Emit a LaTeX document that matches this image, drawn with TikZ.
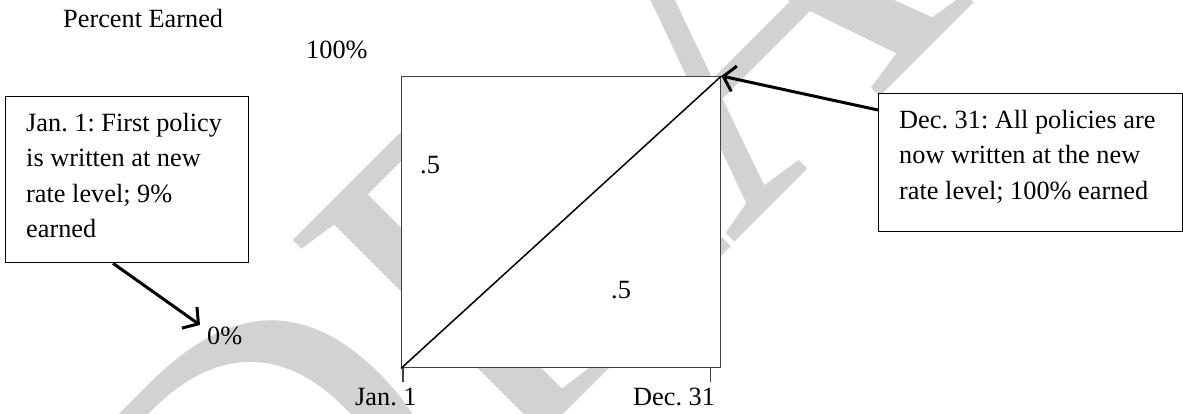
\documentclass[tikz,border=0pt]{standalone}
\usepackage{fontspec}
\setmainfont{Liberation Serif}
\usetikzlibrary{arrows.meta,calc}
\frenchspacing
\begin{document}
\begin{tikzpicture}[x=1pt,y=-1pt,
  lbl/.style={inner sep=0pt, anchor=base west, font=\fontsize{26.3}{35.3}\selectfont},
  boxtext/.style={inner sep=0pt, anchor=north west, align=left, font=\fontsize{26.3}{35.3}\selectfont},
  callout/.style={draw=black, fill=white, line width=1.3pt, inner sep=0pt, anchor=north west},
  pointer/.style={line width=3pt, -{Straight Barb[length=11pt,width=26pt]}},
  frame/.style={draw=black!75, line width=1.4pt},
  wmark/.style={text=gray!35, inner sep=0pt, rotate=45, font=\fontsize{480}{480}\selectfont}]
\useasboundingbox (0,0) rectangle (1183,413);
\begin{scope}
\clip (0,0) rectangle (1183,413);
\node[wmark] (wm) at (705,49) {DRAFT};
\end{scope}
% square
\node[frame, fill=white, minimum width=319pt, minimum height=291pt, inner sep=0pt, anchor=north west] (sq) at (401,76) {};
\draw[line width=1.5pt] (sq.south west) -- (sq.north east);
\draw[frame] ([xshift=2pt]sq.south west) -- ++(0,14);
\draw[frame] ([xshift=-11pt]sq.south east) -- ++(0,14);
% labels
\node[lbl] (pe) at (63,27) {Percent Earned};
\node[lbl] (hund) at (306,58) {100\%};
\node[lbl] (zero) at (207,344) {0\%};
\node[lbl] (h1) at (420,173) {.5};
\node[lbl] (h2) at (611,298) {.5};
\node[lbl] (jan) at (355,405) {Jan. 1};
\node[lbl] (dec) at (633,405) {Dec. 31};
% callouts
\node[callout, minimum width=243pt, minimum height=166pt] (lbox) at (5,96) {};
\node[boxtext] (ltxt) at (26,113) {Jan. 1: First policy\\is written at new\\rate level; 9\%\\earned};
\node[callout, minimum width=304pt, minimum height=138pt] (rbox) at (878,93) {};
\node[boxtext] (rtxt) at (899,110) {Dec. 31: All policies are\\now written at the new\\rate level; 100\% earned};
\coordinate (ltip) at (200,325);
\draw[pointer] ($(lbox.south west)+(108,0)$) -- (ltip);
\draw[pointer] ($(rbox.north west)+(0,17)$) -- (sq.north east);
\end{tikzpicture}
\end{document}
